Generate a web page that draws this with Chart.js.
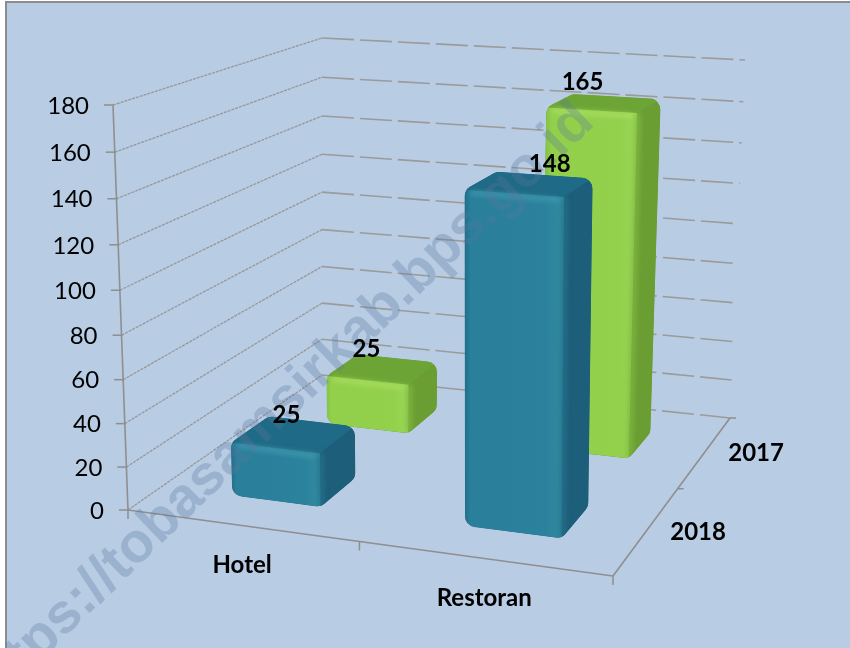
<!DOCTYPE html>
<html><head><meta charset="utf-8">
<script src="https://cdn.jsdelivr.net/npm/chart.js@4"></script>
<style>html,body{margin:0;padding:0;background:#fff}canvas{display:block}</style>
</head><body><canvas id="c" width="850" height="648"></canvas>
<script>
const categories = ['Hotel', 'Restoran'];
const seriesNames = ['2018', '2017'];
const values2018 = [25, 148];
const values2017 = [25, 165];
const tickStep = 20;
const axisMax = 180;

// Projection of the 3D box: floor and ceiling corners
const floorQ = [[128,510],[613,576],[730,418],[322,375]];
const topQ   = [[113,105],[616,138],[745,60],[322,38]];
const BAR_U = 0.098, BAR_W_FRONT = 0.10, BAR_W_BACK = 0.085;
const barTrim = [[0.008,0.008],[0.01,0.01]];
const FONT = 'Lato, Carlito, sans-serif';

function homography(q){
  const [p0,p1,p2,p3]=q;
  const dx1=p1[0]-p2[0],dx2=p3[0]-p2[0],sx=p0[0]-p1[0]+p2[0]-p3[0];
  const dy1=p1[1]-p2[1],dy2=p3[1]-p2[1],sy=p0[1]-p1[1]+p2[1]-p3[1];
  const den=dx1*dy2-dx2*dy1;
  const g=(sx*dy2-dx2*sy)/den,h=(dx1*sy-sx*dy1)/den;
  const a=p1[0]-p0[0]+g*p1[0],b=p3[0]-p0[0]+h*p3[0],c=p0[0];
  const d=p1[1]-p0[1]+g*p1[1],e=p3[1]-p0[1]+h*p3[1],f=p0[1];
  return (u,w)=>{const k=g*u+h*w+1;return [(a*u+b*w+c)/k,(d*u+e*w+f)/k];};
}
const HF=homography(floorQ),HT=homography(topQ);
function P(u,w,t){
  const s=t/(t+(1-t)*1.054);
  const A=HF(u,w),B=HT(u,w);
  return [A[0]+(B[0]-A[0])*s,A[1]+(B[1]-A[1])*s];
}
function roundPath(ctx,pts,r){
  const n=pts.length;
  const m=(a,b)=>[(a[0]+b[0])/2,(a[1]+b[1])/2];
  const st=m(pts[n-1],pts[0]);
  ctx.beginPath();ctx.moveTo(st[0],st[1]);
  for(let i=0;i<n;i++){const a=pts[i],b=pts[(i+1)%n];ctx.arcTo(a[0],a[1],b[0],b[1],r);}
  ctx.closePath();
}
function poly(ctx,pts){ctx.beginPath();pts.forEach((p,i)=>i?ctx.lineTo(p[0],p[1]):ctx.moveTo(p[0],p[1]));ctx.closePath();}
function line(ctx,a,b){ctx.beginPath();ctx.moveTo(a[0],a[1]);ctx.lineTo(b[0],b[1]);ctx.stroke();}

const palette=[
 {front:['#1f6f8c','#2a7f9b','#2b829d','#318c9f'],top:'#1f6a86',side:'#1d5e7a',hi:'#4aa3b8',seam:'#24708c'},
 {front:['#84c542','#92d04c','#93d14c','#9ad658'],top:'#6ca536',side:'#6a9e33',hi:'#b5e66c',seam:'#7fb63f'}
];
const labelNudge={ '0_0':[-5,-18],'0_1':[24,-19],'1_0':[-14,-19],'1_1':[-18,-20] };

const box3d={
 id:'box3d',
 beforeDraw(chart){
  const ctx=chart.ctx;
  ctx.save();
  ctx.fillStyle='#fff';ctx.fillRect(0,0,850,648);
  ctx.fillStyle='#b8cce4';ctx.fillRect(6,2,844,646);
  ctx.strokeStyle='#8c8c8c';ctx.lineWidth=2;
  ctx.beginPath();ctx.moveTo(6,648);ctx.lineTo(6,2);ctx.lineTo(850,2);ctx.stroke();
  ctx.restore();
 },
 beforeDatasetsDraw(chart){
  const ctx=chart.ctx,xs=chart.scales.x,ys=chart.scales.y,zs=chart.scales.z;
  const T=v=>(ys.bottom-ys.getPixelForValue(v))/(ys.bottom-ys.top);
  const U=i=>(xs.getPixelForValue(i)-xs.left)/(xs.right-xs.left);
  const W=i=>(zs.getPixelForValue(i)-zs.left)/(zs.right-zs.left);
  ctx.save();
  // walls
  ctx.lineWidth=1.3;
  ys.ticks.forEach(t=>{
    const h=T(t.value);
    ctx.strokeStyle='#96989a';ctx.setLineDash([3,1]);
    line(ctx,P(0,0,h),P(0,1,h));
    ctx.strokeStyle='#9b9b9a';ctx.setLineDash([32,6]);ctx.lineWidth=1.6;
    line(ctx,P(0,1,h),P(1,1,h));
    ctx.lineWidth=1.3;
  });
  ctx.setLineDash([]);
  ctx.strokeStyle='#8f8f8f';ctx.lineWidth=1.6;
  line(ctx,P(0,0,0),P(0,0,1));
  line(ctx,P(0,0,0),P(1,0,0));
  line(ctx,P(1,0,0),P(1,1,0));
  // ticks
  ctx.lineWidth=1.5;
  ys.ticks.forEach(t=>{const p=P(0,0,T(t.value));line(ctx,[p[0]-9,p[1]],[p[0]+1,p[1]]);});
  [0,0.5,1].forEach(u=>{const p=HF(u,0);line(ctx,p,[p[0],p[1]+9]);});
  [0.5,1].forEach(w=>{const p=HF(1,w);line(ctx,p,[p[0]+6,p[1]]);});
  // bars, back row first
  const rows=[1,0];
  rows.forEach(s=>{
   chart.data.datasets[s].data.forEach((v,i)=>{
    drawBar(ctx,U(i),W(s),T(v),palette[s],barTrim[i]);
   });
  });
  // watermark
  ctx.save();
  ctx.translate(596,124);ctx.rotate(-Math.PI*44/180);
  ctx.font='bold 56px "Liberation Sans", sans-serif';ctx.textAlign='right';ctx.textBaseline='alphabetic';
  ctx.fillStyle='rgba(88,118,155,0.30)';
  ctx.fillText('https://tobasamsirkab.bps.go.id',0,0);
  ctx.restore();
  // text
  ctx.fillStyle='#000';ctx.textBaseline='middle';
  ctx.font='24px '+FONT;ctx.textAlign='right';
  ys.ticks.forEach(t=>{const p=P(0,0,T(t.value));ctx.fillText(String(t.value),p[0]-24,p[1]+1);});
  ctx.font='bold 24px '+FONT;ctx.textAlign='center';
  categories.forEach((c,i)=>{const p=HF(U(i),0);ctx.fillText(c,p[0]+1,p[1]+40);});
  seriesNames.forEach((c,s)=>{const p=HF(1,W(s));ctx.fillText(c,p[0]+51,p[1]+2);});
  chart.data.datasets.forEach((d,s)=>d.data.forEach((v,i)=>{
    const p=P(U(i),W(s),T(v)),n=labelNudge[s+'_'+i];
    ctx.fillText(String(v),p[0]+n[0],p[1]+n[1]);
  }));
  ctx.restore();
  return false;
 }
};
function drawBar(ctx,u,w,t,c,trim){
  const u0=u-BAR_U+trim[0],u1=u+BAR_U+trim[1],w0=w-BAR_W_FRONT,w1=w+BAR_W_BACK;
  const FBL=P(u0,w0,0),FBR=P(u1,w0,0),BBR=P(u1,w1,0);
  const FTL=P(u0,w0,t),FTR=P(u1,w0,t),BTR=P(u1,w1,t),BTL=P(u0,w1,t);
  const sil=[FBL,FTL,BTL,BTR,BBR,FBR];
  ctx.save();
  roundPath(ctx,sil,11);ctx.fillStyle=c.side;ctx.fill();ctx.clip();
  poly(ctx,[FTL,BTL,BTR,FTR]);ctx.fillStyle=c.top;ctx.fill();
  poly(ctx,[FTR,BTR,BBR,FBR]);ctx.fillStyle=c.side;ctx.fill();
  const g=ctx.createLinearGradient(FTL[0],0,FTR[0],0);
  g.addColorStop(0,c.front[0]);g.addColorStop(.06,c.front[1]);g.addColorStop(.82,c.front[2]);g.addColorStop(1,c.front[3]);
  poly(ctx,[FTL,FTR,FBR,FBL]);ctx.fillStyle=g;ctx.fill();
  ctx.filter='blur(2.5px)';
  ctx.strokeStyle=c.seam;ctx.lineWidth=5;
  ctx.beginPath();ctx.moveTo(FTR[0]+1,FTR[1]);ctx.lineTo(FBR[0]+1,FBR[1]);ctx.stroke();
  ctx.strokeStyle=c.hi;ctx.lineWidth=4;ctx.globalAlpha=.7;
  ctx.beginPath();ctx.moveTo(FTL[0]+6,FTL[1]+3);ctx.lineTo(FTR[0]-4,FTR[1]+3);ctx.stroke();
  ctx.restore();
}

new Chart(document.getElementById('c'),{
 type:'bar',
 data:{labels:categories,datasets:[
  {label:seriesNames[0],data:values2018,backgroundColor:'#2c849f'},
  {label:seriesNames[1],data:values2017,backgroundColor:'#93d14c'}
 ]},
 options:{
  responsive:false,animation:false,
  plugins:{legend:{display:false},tooltip:{enabled:false}},
  scales:{
   x:{type:'category',labels:categories,offset:true,display:false},
   z:{type:'category',axis:'x',labels:seriesNames,offset:true,display:false},
   y:{type:'linear',min:0,max:axisMax,ticks:{stepSize:tickStep},display:false}
  }
 },
 plugins:[box3d]
});
</script></body></html>
